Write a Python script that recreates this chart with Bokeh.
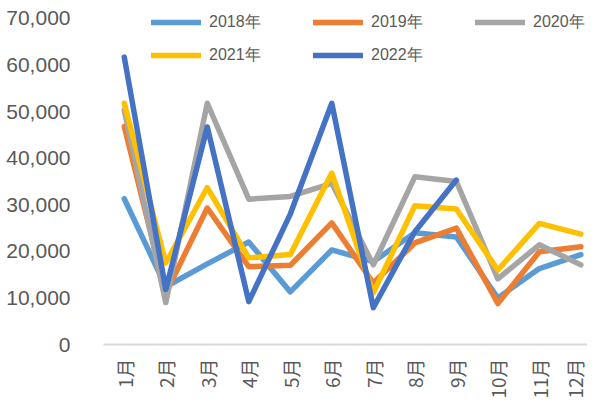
from bokeh.plotting import figure
from bokeh.models import Range1d, FixedTicker, NumeralTickFormatter, Legend, LegendItem
from bokeh.embed import file_html
from bokeh.resources import INLINE
import math

months = ["1月", "2月", "3月", "4月", "5月", "6月", "7月", "8月", "9月", "10月", "11月", "12月"]
y2018 = [31300, 12400, 17300, 22000, 11300, 20300, 17800, 24000, 23100, 10000, 16300, 19300]
y2019 = [46800, 11000, 29300, 16700, 17000, 26100, 13200, 21800, 25000, 8800, 19900, 21000]
y2020 = [50300, 9000, 51800, 31200, 31800, 34600, 17100, 36000, 35000, 14100, 21400, 17100]
y2021 = [51800, 17500, 33700, 18600, 19300, 36800, 11100, 29800, 29100, 16000, 26000, 23700]
y2022 = [61700, 11800, 46700, 9200, 28000, 51800, 7900, 24200, 35300]
series_names = ["2018年", "2019年", "2020年", "2021年", "2022年"]
colors = ["#5B9BD5", "#ED7D31", "#A5A5A5", "#FFC000", "#4472C4"]
y_ticks = [0, 10000, 20000, 30000, 40000, 50000, 60000, 70000]

idx = list(range(1, len(months) + 1))

p = figure(width=587, height=401, output_backend="svg", toolbar_location=None,
           x_range=Range1d(0.5, 12.16), y_range=Range1d(0, 72783),
           min_border_left=103, min_border_right=0, min_border_top=5, min_border_bottom=56)
p.outline_line_color = None
p.xgrid.grid_line_color = None
p.ygrid.grid_line_color = None
p.background_fill_color = "white"
p.border_fill_color = "white"

renderers = []
for name, ys, c in zip(series_names, [y2018, y2019, y2020, y2021, y2022], colors):
    r = p.line(idx[:len(ys)], ys, line_color=c, line_width=5.5, line_join="round", line_cap="round")
    renderers.append(r)

# axes
p.xaxis.ticker = FixedTicker(ticks=idx)
p.xaxis.major_label_overrides = {i: m for i, m in zip(idx, months)}
p.xaxis.major_label_orientation = math.pi / 2
p.xaxis.major_label_text_font = "Noto Sans CJK SC"
p.xaxis.major_label_text_font_size = "19px"
p.xaxis.major_label_text_color = "#595959"
p.xaxis.major_tick_line_color = None
p.xaxis.minor_tick_line_color = None
p.xaxis.major_tick_out = 0
p.xaxis.major_tick_in = 0
p.xaxis.axis_line_color = "#D9D9D9"
p.xaxis.axis_line_width = 2
p.xaxis.major_label_standoff = 14

p.yaxis.ticker = FixedTicker(ticks=y_ticks)
p.yaxis.formatter = NumeralTickFormatter(format="0,0")
p.yaxis.major_label_text_font = "Liberation Sans"
p.yaxis.major_label_text_font_size = "21px"
p.yaxis.major_label_text_color = "#595959"
p.yaxis.major_tick_line_color = None
p.yaxis.minor_tick_line_color = None
p.yaxis.major_tick_out = 0
p.yaxis.major_tick_in = 0
p.yaxis.axis_line_color = None
p.yaxis.major_label_standoff = 33

def make_legend(items, loc):
    lg = Legend(items=items, location=loc, orientation="horizontal",
                padding=0, margin=0, spacing=4,
                glyph_width=50, glyph_height=24, label_width=100, label_height=24,
                label_standoff=8,
                label_text_font="Liberation Sans", label_text_font_size="16px",
                label_text_color="#595959",
                border_line_alpha=0, background_fill_alpha=0)
    return lg

row1 = [LegendItem(label=series_names[i], renderers=[renderers[i]]) for i in range(3)]
row2 = [LegendItem(label=series_names[i], renderers=[renderers[i]]) for i in range(3, 5)]
p.add_layout(make_legend(row1, (48, 310)))
p.add_layout(make_legend(row2, (48, 277)))

open("out.html", "w").write(file_html(p, INLINE))
